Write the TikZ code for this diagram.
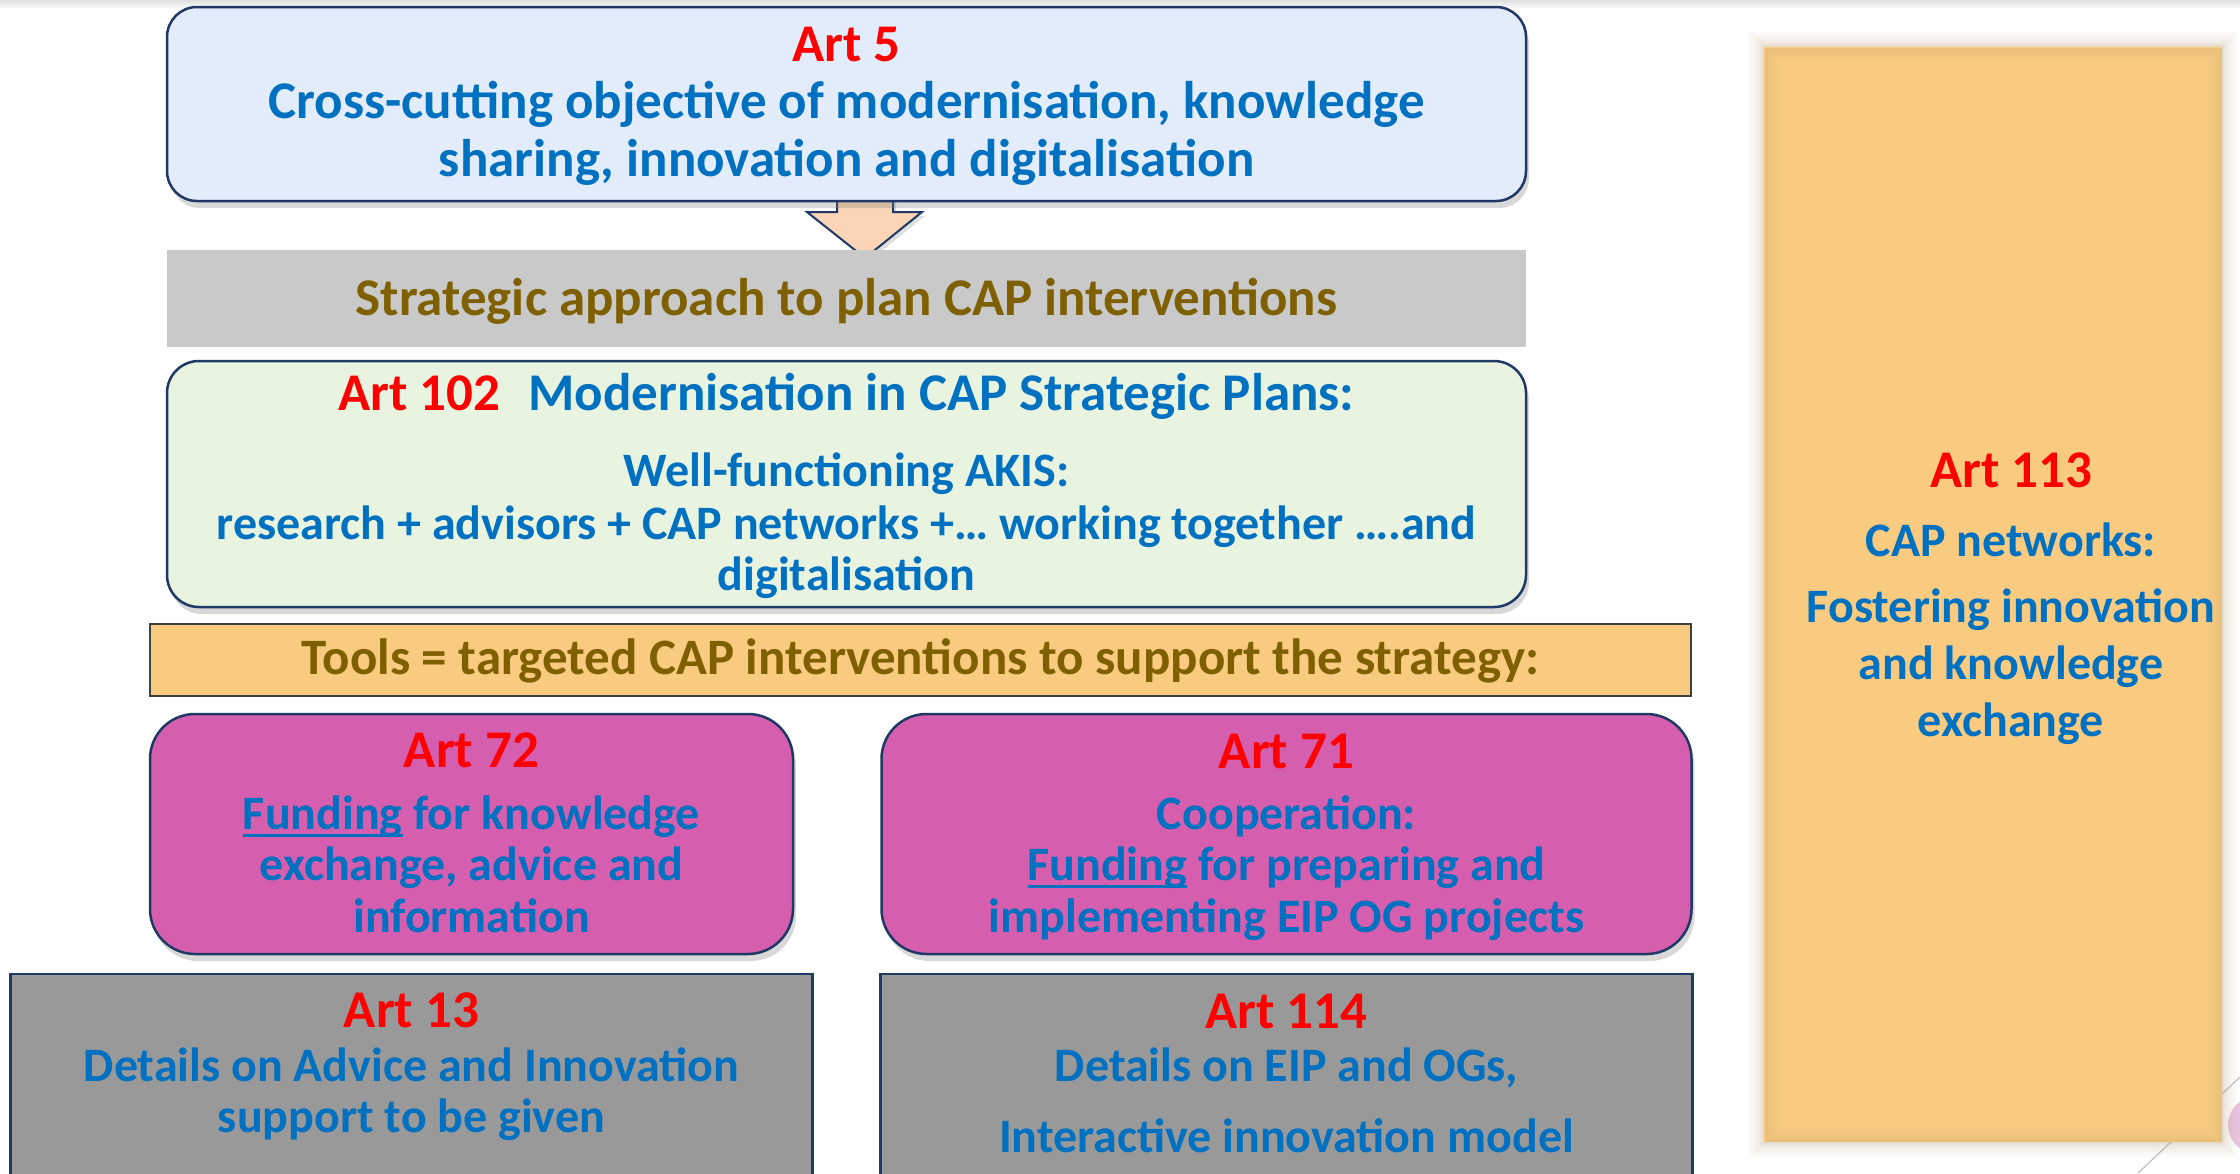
\documentclass[tikz,border=0pt]{standalone}
\usepackage{fontspec}
\setmainfont{Carlito}
\usetikzlibrary{shadows,calc}
\definecolor{artred}{HTML}{FF0000}
\definecolor{txtblue}{HTML}{0070C0}
\definecolor{txtbrown}{HTML}{7F6000}
\definecolor{edgeblue}{HTML}{203864}
\definecolor{fillblue}{HTML}{E2ECFA}
\definecolor{fillgreen}{HTML}{E8F4E0}
\definecolor{fillmag}{HTML}{D55FAE}
\definecolor{fillgray}{HTML}{999999}
\definecolor{fillbar}{HTML}{C9C9C9}
\definecolor{fillgold}{HTML}{F8CB80}
\definecolor{fillpeach}{HTML}{FBD5B5}
\definecolor{glowc}{HTML}{B89868}
\definecolor{pinkc}{HTML}{E9C3DF}
\newcommand\myul[1]{\setbox0\hbox{#1}\rlap{\rule[-8pt]{\wd0}{3.5pt}}\box0\relax}
\begin{document}
\begin{tikzpicture}[x=1pt,y=-1pt,
  box/.style={draw=edgeblue,line width=2.5pt,inner sep=0pt,outer sep=0pt},
  rbox/.style={box,rounded corners=#1,drop shadow={shadow xshift=3pt,shadow yshift=-7pt,opacity=0.3}},
  flatbox/.style={inner sep=0pt,outer sep=0pt},
  txt/.style={anchor=base,inner sep=0pt,font=\fontsize{48}{58}\selectfont\bfseries},
  big/.style={font=\fontsize{53}{63}\selectfont\bfseries},
  redtxt/.style={txt,big,text=artred},
  bluetxt/.style={txt,text=txtblue},
  browntxt/.style={txt,text=txtbrown},
  blockarrow/.style={draw=edgeblue,line width=2pt,fill=fillpeach,line join=miter}
]
\useasboundingbox (0,0) rectangle (2240,1173);
\clip (0,0) rectangle (2240,1173);
\fill[white] (0,0) rectangle (2240,1173);
\shade[top color=black!12,bottom color=white] (0,0) rectangle (2240,9);

% decorative slide corner
\draw[black!25,line width=1.2pt] (2240,1077) -- (2138,1173);
\fill[pinkc] (2257,1125) circle (29);

% Art 113 tall box with soft glow
\foreach \e/\o in {16/0.03,13/0.04,10/0.05,7/0.06,4/0.08,2/0.1}{
  \fill[glowc,opacity=\o] (1764-\e,47-\e) rectangle (2222+\e,1142+\e);
}
\node[flatbox,fill=fillgold,minimum width=458pt,minimum height=1095pt] (art113) at (1993,594.5) {};
\foreach \i/\o in {2/0.22,5/0.16,8/0.11,11/0.07,14/0.04}{
  \draw[glowc,line width=3pt,opacity=\o] ($(art113.north west)+(\i,\i)$) rectangle ($(art113.south east)+(-\i,-\i)$);
}
\node[redtxt] (t113a) at (2011,487) {Art 113};
\node[bluetxt] (t113b) at (2011,556) {CAP networks:};
\node[bluetxt] (t113c) at (2011,622) {Fostering innovation};
\node[bluetxt] (t113d) at (2011,679) {and knowledge};
\node[bluetxt] (t113e) at (2011,736) {exchange};

% block arrow from Art 5 to strategic bar
\coordinate (ab) at (846.5,201);
\path[blockarrow,drop shadow={shadow xshift=3pt,shadow yshift=-4pt,opacity=0.25}]
  ($(ab)+(-9.5,-6)$) -- ($(ab)+(-9.5,11)$) -- ($(ab)+(-39.5,11)$) -- ($(ab)+(18.5,57)$)
  -- ($(ab)+(75.5,11)$) -- ($(ab)+(46.5,11)$) -- ($(ab)+(46.5,-6)$) -- cycle;

% Art 5
\node[rbox=30pt,fill=fillblue,minimum width=1359pt,minimum height=194pt] (art5) at (846.5,104) {};
\node[redtxt] (t5a) at (art5.center |- 0,61) {Art 5};
\node[bluetxt,big] (t5b) at (art5.center |- 0,118) {Cross-cutting objective of modernisation, knowledge};
\node[bluetxt,big] (t5c) at (art5.center |- 0,176) {sharing, innovation and digitalisation};

% Strategic bar
\node[flatbox,fill=fillbar,minimum width=1359pt,minimum height=97pt] (strat) at (846.5,298.5) {};
\node[browntxt,big] (tstrat) at (846.5,315) {Strategic approach to plan CAP interventions};

% Art 102
\node[rbox=32pt,fill=fillgreen,minimum width=1359pt,minimum height=246pt] (art102) at (846.5,484) {};
\node[txt,big] (t102a) at (846.5,410) {\textcolor{artred}{Art 102}\hspace{28pt}\textcolor{txtblue}{Modernisation in CAP Strategic Plans:}};
\node[bluetxt] (t102b) at (846.5,486) {Well-functioning AKIS:};
\node[bluetxt] (t102c) at (846.5,539) {research + advisors + CAP networks +… working together ….and};
\node[bluetxt] (t102d) at (846.5,590) {digitalisation};

% Tools bar
\node[flatbox,draw=black!75,line width=1.5pt,fill=fillgold,minimum width=1541pt,minimum height=72pt] (tools) at (920.5,660) {};
\node[browntxt,font=\fontsize{51}{61}\selectfont\bfseries] (ttools) at (920.5,674) {Tools = targeted CAP interventions to support the strategy:};

% Art 72
\node[rbox=45pt,fill=fillmag,minimum width=643pt,minimum height=240pt] (art72) at (471.5,834) {};
\node[redtxt] (t72a) at (471.5,767) {Art 72};
\node[bluetxt] (t72b) at (471.5,829) {\myul{Funding} for knowledge};
\node[bluetxt] (t72c) at (471.5,880) {exchange, advice and};
\node[bluetxt] (t72d) at (471.5,932) {information};

% Art 71
\node[rbox=45pt,fill=fillmag,minimum width=810pt,minimum height=240pt] (art71) at (1286.5,834) {};
\node[redtxt] (t71a) at (1286.5,768) {Art 71};
\node[bluetxt] (t71b) at (1286.5,829) {Cooperation:};
\node[bluetxt] (t71c) at (1286.5,880) {\myul{Funding} for preparing and};
\node[bluetxt] (t71d) at (1286.5,932) {implementing EIP OG projects};

% Art 13
\node[box,fill=fillgray,minimum width=802pt,minimum height=240pt] (art13) at (411.5,1094) {};
\node[redtxt] (t13a) at (411.5,1027) {Art 13};
\node[bluetxt] (t13b) at (411.5,1081) {Details on Advice and Innovation};
\node[bluetxt] (t13c) at (411.5,1132) {support to be given};

% Art 114
\node[box,fill=fillgray,minimum width=812pt,minimum height=240pt] (art114) at (1286.5,1094) {};
\node[redtxt] (t114a) at (1286.5,1028) {Art 114};
\node[bluetxt] (t114b) at (1286.5,1081) {Details on EIP and OGs,};
\node[bluetxt] (t114c) at (1286.5,1152) {Interactive innovation model};
\end{tikzpicture}
\end{document}
